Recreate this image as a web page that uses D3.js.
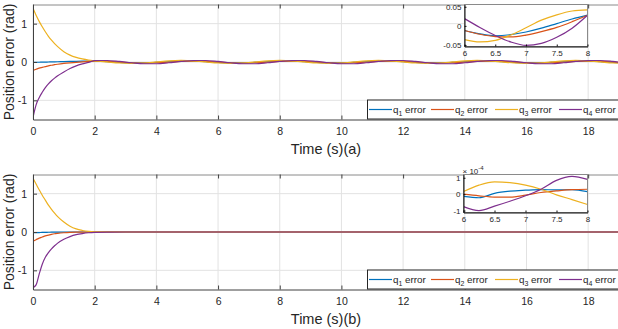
<!DOCTYPE html>
<html>
<head>
<meta charset="utf-8">
<script src="https://cdn.jsdelivr.net/npm/d3@7"></script>
<style>
  body { margin: 0; background: #fff; }
  text { font-family: Arial, "Liberation Sans", Helvetica, sans-serif; fill: #262626; }
</style>
</head>
<body>
<svg id="chart" width="618" height="329"></svg>
<script>
const colors = ["#0072BD", "#D95319", "#EDB120", "#7E2F8E"];
const legendNames = ["1", "2", "3", "4"];
const xTicks = [0, 2, 4, 6, 8, 10, 12, 14, 16, 18];
const yTicks = [-1, 0, 1];
const insetXTicks = [6, 6.5, 7, 7.5, 8];

// panel (a): time and errors, rad
const timeA = [0, 0.1, 0.2, 0.3, 0.4, 0.5, 0.6, 0.7, 0.8, 1.0, 1.2, 1.4, 1.6, 1.8,
  2.0, 2.4, 2.8, 3.2, 3.6, 4.0, 4.4, 4.8,
  5.2, 5.6, 6.0, 6.4, 6.8, 7.2, 7.6, 8.0,
  8.4, 8.8, 9.2, 9.6, 10.0, 10.4, 10.8, 11.2,
  11.6, 12.0, 12.4, 12.8, 13.2, 13.6, 14.0, 14.4,
  14.8, 15.2, 15.6, 16.0, 16.4, 16.8, 17.2, 17.6,
  18.0, 18.4, 18.8, 19.0];
const q1A = [-0.010, -0.008, -0.006, -0.004, -0.002, 0.000, 0.002, 0.004, 0.006, 0.010, 0.014, 0.018, 0.021, 0.023,
  0.024, 0.010, -0.010, -0.024, -0.024, -0.010, 0.010, 0.024,
  0.024, 0.010, -0.010, -0.024, -0.024, -0.010, 0.010, 0.024,
  0.024, 0.010, -0.010, -0.024, -0.024, -0.010, 0.010, 0.024,
  0.024, 0.010, -0.010, -0.024, -0.024, -0.010, 0.010, 0.024,
  0.024, 0.010, -0.010, -0.024, -0.024, -0.010, 0.010, 0.024,
  0.024, 0.010, -0.010, -0.018];
const q2A = [-0.22, -0.19, -0.16, -0.14, -0.12, -0.10, -0.085, -0.07, -0.058, -0.038, -0.022, -0.008, 0.004, 0.015,
  0.024, 0.016, -0.002, -0.020, -0.028, -0.020, -0.002, 0.016,
  0.024, 0.016, -0.002, -0.020, -0.028, -0.020, -0.002, 0.016,
  0.024, 0.016, -0.002, -0.020, -0.028, -0.020, -0.002, 0.016,
  0.024, 0.016, -0.002, -0.020, -0.028, -0.020, -0.002, 0.016,
  0.024, 0.016, -0.002, -0.020, -0.028, -0.020, -0.002, 0.016,
  0.024, 0.016, -0.002, -0.012];
const q3A = [1.40, 1.22, 1.06, 0.92, 0.79, 0.67, 0.57, 0.48, 0.40, 0.27, 0.18, 0.12, 0.08, 0.05,
  0.030, 0.002, -0.026, -0.037, -0.026, 0.002, 0.030, 0.041,
  0.030, 0.002, -0.026, -0.037, -0.026, 0.002, 0.030, 0.041,
  0.030, 0.002, -0.026, -0.037, -0.026, 0.002, 0.030, 0.041,
  0.030, 0.002, -0.026, -0.037, -0.026, 0.002, 0.030, 0.041,
  0.030, 0.002, -0.026, -0.037, -0.026, 0.002, 0.030, 0.041,
  0.030, 0.002, -0.026, -0.032];
const q4A = [-1.45, -1.12, -0.93, -0.79, -0.67, -0.57, -0.49, -0.42, -0.36, -0.26, -0.17, -0.10, -0.05, -0.01,
  0.039, 0.039, 0.014, -0.020, -0.045, -0.045, -0.020, 0.014,
  0.039, 0.039, 0.014, -0.020, -0.045, -0.045, -0.020, 0.014,
  0.039, 0.039, 0.014, -0.020, -0.045, -0.045, -0.020, 0.014,
  0.039, 0.039, 0.014, -0.020, -0.045, -0.045, -0.020, 0.014,
  0.039, 0.039, 0.014, -0.020, -0.045, -0.045, -0.020, 0.014,
  0.039, 0.039, 0.014, -0.004];

// panel (b)
const timeB = [0, 0.1, 0.2, 0.3, 0.4, 0.5, 0.6, 0.7, 0.8, 1.0, 1.2, 1.4, 1.6, 1.8, 2.0,
  2.5, 3, 4, 6, 8, 10, 12, 14, 16, 18, 19];
const q1B = [-0.020, -0.017, -0.014, -0.011, -0.009, -0.007, -0.005, -0.004, -0.003, -0.002, -0.001, -0.0005, -0.0002, -0.0001, 0,
  0, 0, 0, 0, 0, 0, 0, 0, 0, 0, 0];
const q2B = [-0.24, -0.20, -0.16, -0.13, -0.10, -0.08, -0.06, -0.045, -0.035, -0.020, -0.010, -0.005, -0.002, -0.001, 0,
  0, 0, 0, 0, 0, 0, 0, 0, 0, 0, 0];
const q3B = [1.40, 1.25, 1.10, 0.96, 0.83, 0.70, 0.59, 0.49, 0.40, 0.26, 0.15, 0.08, 0.04, 0.015, 0.005,
  0.001, 0, 0, 0, 0, 0, 0, 0, 0, 0, 0];
const q4B = [-1.45, -1.38, -1.10, -0.84, -0.66, -0.54, -0.44, -0.36, -0.29, -0.19, -0.12, -0.07, -0.04, -0.02, -0.01,
  -0.003, 0, 0, 0, 0, 0, 0, 0, 0, 0, 0];

// zoomed insets, t = 6..8
const timeInset = [6, 6.25, 6.5, 6.75, 7, 7.25, 7.5, 7.75, 8];
const q1InsetA = [-0.012, -0.021, -0.026, -0.023, -0.016, -0.006, 0.006, 0.018, 0.028];
const q2InsetA = [-0.012, -0.022, -0.028, -0.029, -0.024, -0.015, -0.004, 0.011, 0.028];
const q3InsetA = [-0.036, -0.042, -0.038, -0.024, -0.005, 0.015, 0.029, 0.039, 0.042];
const q4InsetA = [0.019, -0.004, -0.025, -0.042, -0.051, -0.046, -0.030, -0.006, 0.028];
// panel (b) inset in units of 1e-4 rad
const q1InsetB = [-0.14, -0.22, 0.05, 0.18, 0.24, 0.28, 0.26, 0.28, 0.15];
const q2InsetB = [0.00, -0.10, -0.18, -0.18, -0.06, 0.10, 0.20, 0.28, 0.30];
const q3InsetB = [0.16, 0.55, 0.75, 0.70, 0.55, 0.30, -0.04, -0.33, -0.63];
const q4InsetB = [-0.76, -1.00, -0.73, -0.43, -0.10, 0.30, 0.84, 1.08, 0.90];

const svg = d3.select("#chart");
const axisColor = "#404040";

function drawPanel(p) {
  const x = d3.scaleLinear().domain([0, 19]).range([33, 619]);
  const y = d3.scaleLinear().domain([-1.5, 1.5]).range([p.bottom, p.top]);
  const g = svg.append("g");

  g.selectAll(".vgrid").data(xTicks).join("line")
    .attr("x1", d => x(d)).attr("x2", d => x(d))
    .attr("y1", p.top).attr("y2", p.bottom)
    .attr("stroke", "#e2e2e2");
  g.selectAll(".hgrid").data(yTicks).join("line")
    .attr("x1", 33).attr("x2", 619)
    .attr("y1", d => y(d)).attr("y2", d => y(d))
    .attr("stroke", "#e2e2e2");

  svg.append("clipPath").attr("id", "clip" + p.id)
    .append("rect").attr("x", 33).attr("y", p.top).attr("width", 586).attr("height", p.bottom - p.top);

  const line = d3.line()
    .x((d, i) => x(p.time[i]))
    .y(d => y(d))
    .curve(d3.curveMonotoneX);

  g.append("g").attr("clip-path", `url(#clip${p.id})`)
    .selectAll("path").data(p.series).join("path")
    .attr("d", line)
    .attr("fill", "none")
    .attr("stroke", (d, i) => colors[i])
    .attr("stroke-width", 1.2);

  // box and ticks (inside, like matlab)
  const bx = g.append("g").attr("transform", `translate(0,${p.bottom})`)
    .call(d3.axisBottom(x).tickValues(xTicks).tickSize(-4).tickSizeOuter(0).tickPadding(8).tickFormat(d => String(d)));
  bx.selectAll("text").style("font-size", "10.5px");
  const tx = g.append("g").attr("transform", `translate(0,${p.top})`)
    .call(d3.axisTop(x).tickValues(xTicks).tickSize(-4).tickSizeOuter(0).tickFormat(""));
  const ly = g.append("g").attr("transform", "translate(33,0)")
    .call(d3.axisLeft(y).tickValues(yTicks).tickSize(-4).tickSizeOuter(0).tickPadding(6).tickFormat(d => String(d)));
  ly.selectAll("text").style("font-size", "10.5px");
  g.selectAll(".domain, .tick line").attr("stroke", axisColor);
  tx.select(".domain").attr("stroke", "#8a8a8a");
  g.selectAll(".tick text").attr("fill", "#262626");

  g.append("text")
    .attr("x", 326).attr("y", p.bottom + 34)
    .attr("text-anchor", "middle")
    .style("font-size", "14.5px")
    .text(p.xLabel);
  g.append("text")
    .attr("transform", `translate(14,${(p.top + p.bottom) / 2}) rotate(-90)`)
    .attr("text-anchor", "middle")
    .style("font-size", "14px")
    .text("Position error (rad)");

  drawInset(p.inset);

  // legend
  const leg = g.append("g");
  leg.append("rect")
    .attr("x", 367.5).attr("y", p.bottom - 19.5)
    .attr("width", 252).attr("height", 19)
    .attr("fill", "#fff").attr("stroke", "#262626");
  const entryX = [369, 431, 495, 559];
  const items = leg.selectAll(".item").data(legendNames).join("g")
    .attr("transform", (d, i) => `translate(${entryX[i]},${p.bottom - 10})`);
  items.append("line").attr("x1", 0).attr("x2", 23).attr("y1", 0).attr("y2", 0)
    .attr("stroke", (d, i) => colors[i]).attr("stroke-width", 1.2);
  const lt = items.append("text").attr("x", 24).attr("y", 3.5).style("font-size", "9.8px");
  lt.append("tspan").text("q");
  lt.append("tspan").attr("dy", 2.5).style("font-size", "7px").text(d => d);
  lt.append("tspan").attr("dy", -2.5).text(" error");
}

function drawInset(q) {
  const x = d3.scaleLinear().domain([6, 8]).range([q.left, q.right]);
  const y = d3.scaleLinear().domain(q.yDomain).range([q.bottom, q.top]);
  const g = svg.append("g");
  g.append("rect").attr("x", q.left).attr("y", q.top)
    .attr("width", q.right - q.left).attr("height", q.bottom - q.top)
    .attr("fill", "#fff");
  const line = d3.line()
    .x((d, i) => x(timeInset[i]))
    .y(d => y(d))
    .curve(d3.curveMonotoneX);
  g.selectAll("path.s").data(q.series).join("path")
    .attr("class", "s")
    .attr("d", line)
    .attr("fill", "none")
    .attr("stroke", (d, i) => colors[i])
    .attr("stroke-width", 1.2);

  g.append("rect").attr("x", q.left).attr("y", q.top)
    .attr("width", q.right - q.left).attr("height", q.bottom - q.top)
    .attr("fill", "none").attr("stroke", "#8a8a8a");

  const ax = g.append("g").attr("transform", `translate(0,${q.bottom})`)
    .call(d3.axisBottom(x).tickValues(insetXTicks).tickSize(-2).tickSizeOuter(0).tickPadding(4).tickFormat(d => String(d)));
  const ay = g.append("g").attr("transform", `translate(${q.left},0)`)
    .call(d3.axisLeft(y).tickValues(q.yTicks).tickSize(-2).tickSizeOuter(0).tickPadding(3).tickFormat(q.yFormat));
  [ax, ay].forEach(a => {
    a.select(".domain").attr("stroke", "#111");
    a.selectAll(".tick line").attr("stroke", "#111");
    a.selectAll("text").style("font-size", "8px").attr("fill", "#262626");
  });

  if (q.exponent) {
    const t = g.append("text").attr("x", q.left - 1).attr("y", q.top - 1).style("font-size", "8px");
    t.append("tspan").text("\u00d7 10");
    t.append("tspan").attr("dy", -4).style("font-size", "6px").text(q.exponent);
  }
}

drawPanel({
  id: "a", top: 4.5, bottom: 119.5, xLabel: "Time (s)(a)",
  time: timeA, series: [q1A, q2A, q3A, q4A],
  inset: {
    left: 464.5, right: 587.5, top: 4.5, bottom: 46.5,
    yDomain: [-0.054, 0.056], yTicks: [-0.05, 0, 0.05],
    yFormat: d => d === 0 ? "0" : d.toFixed(2),
    series: [q1InsetA, q2InsetA, q3InsetA, q4InsetA]
  }
});

drawPanel({
  id: "b", top: 174.5, bottom: 289.5, xLabel: "Time (s)(b)",
  time: timeB, series: [q1B, q2B, q3B, q4B],
  inset: {
    left: 463.5, right: 587.5, top: 174.5, bottom: 212.5,
    yDomain: [-1.12, 1.2], yTicks: [-1, 0, 1],
    yFormat: d => String(d), exponent: "-4",
    series: [q1InsetB, q2InsetB, q3InsetB, q4InsetB]
  }
});
</script>
</body>
</html>
